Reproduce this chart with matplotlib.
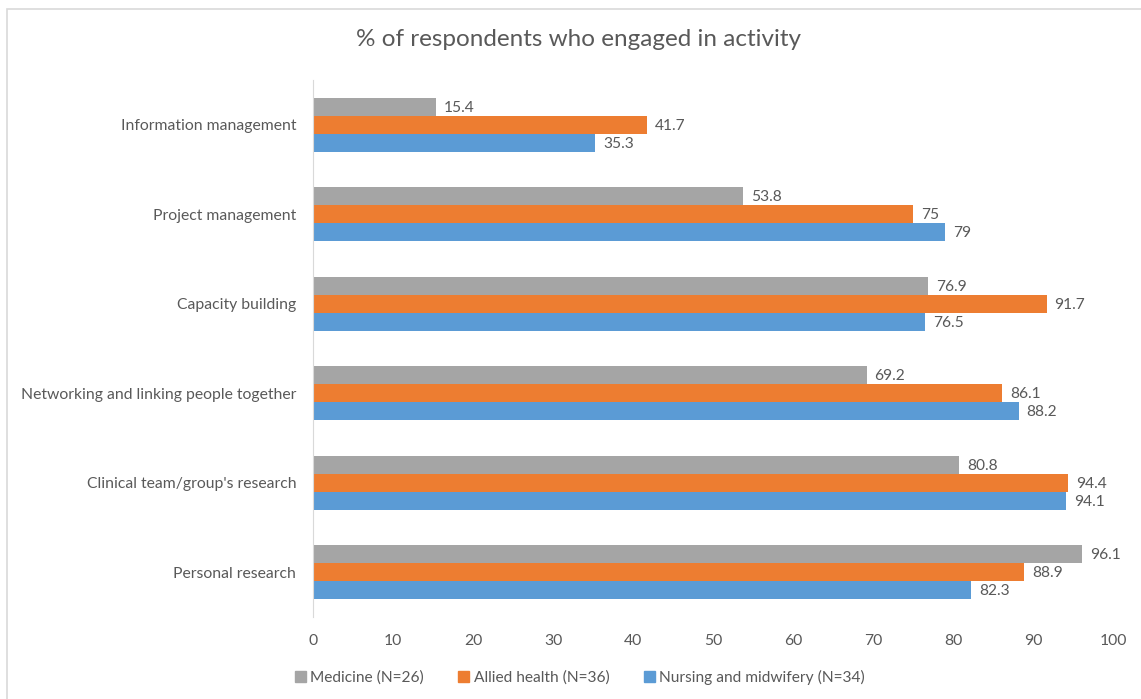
import matplotlib.pyplot as plt
import matplotlib.patches as mpatches
import numpy as np

plt.rcParams['font.family'] = ['Lato', 'DejaVu Sans']

activities = ["Information management", "Project management", "Capacity building",
              "Networking and linking people together", "Clinical team/group's research",
              "Personal research"]
medicine = [15.4, 53.8, 76.9, 69.2, 80.8, 96.1]
allied = [41.7, 75, 91.7, 86.1, 94.4, 88.9]
nursing = [35.3, 79, 76.5, 88.2, 94.1, 82.3]
series_names = ["Medicine (N=26)", "Allied health (N=36)", "Nursing and midwifery (N=34)"]
xticks = [0, 10, 20, 30, 40, 50, 60, 70, 80, 90, 100]

colors = ['#A5A5A5', '#ED7D31', '#5B9BD5']
txt = '#595959'

fig = plt.figure(figsize=(11.41, 6.99), dpi=100)
ax = fig.add_axes([313/1141, 1-617/699, 800/1141, 537/699])

# frame around the chart area (only top and left edges show)
fig.patches.append(mpatches.Rectangle((7/1141, -0.1), 1.2, 1.1-8.5/699, transform=fig.transFigure,
                                      fill=False, edgecolor='#D9D9D9', linewidth=1.2))

y = np.arange(len(activities))
h = 0.2
data = [medicine, allied, nursing]
offs = [-h, 0, h]
for vals, off, c, name in zip(data, offs, colors, series_names):
    bars = ax.barh(y + off, vals, height=h, color=c, label=name)
    for b, v in zip(bars, vals):
        ax.text(v + 1.0, b.get_y() + h/2 + 0.01, f"{v:g}", va='center', ha='left',
                fontsize=11.2, color=txt)

ax.set_ylim(len(activities) - 0.5, -0.5)
ax.set_xlim(0, 100)
ax.set_xticks(xticks)
ax.set_yticks(y)
ax.set_yticklabels(activities)
ax.tick_params(length=0, labelsize=11.3, labelcolor=txt)
ax.tick_params(axis='x', pad=12)
ax.tick_params(axis='y', pad=12)
for s in ['top', 'right', 'bottom']:
    ax.spines[s].set_visible(False)
ax.spines['left'].set_color('#D9D9D9')

fig.text(578/1141, 1-40/699, "% of respondents who engaged in activity", ha='center', va='center',
         fontsize=17.5, color=txt)

handles = [mpatches.Patch(color=c) for c in colors]
fig.legend(handles, series_names, loc='center', bbox_to_anchor=(580/1141, 1-677/699), ncol=3,
           frameon=False, fontsize=11.2, labelcolor=txt, handlelength=0.7, handleheight=0.7,
           handletextpad=0.3, columnspacing=2.2)

fig.savefig('out.png', dpi=100)
